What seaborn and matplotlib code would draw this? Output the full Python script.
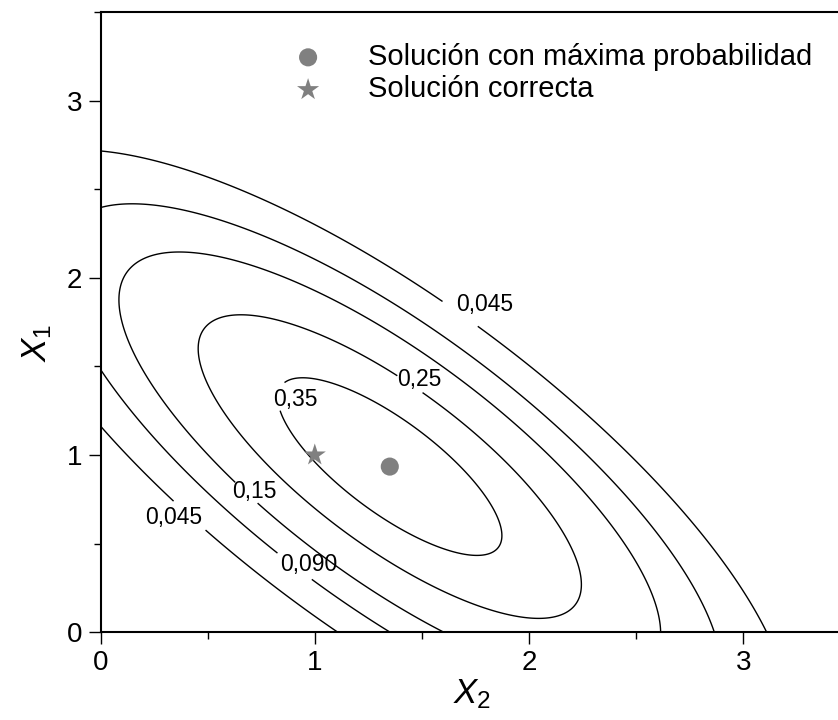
import numpy as np
import matplotlib
matplotlib.use("Agg")
import matplotlib.pyplot as plt
from matplotlib.ticker import MultipleLocator
import seaborn as sns

# Contour levels of the probability density and their printed labels
levels = [0.045, 0.090, 0.15, 0.25, 0.35]
level_labels = ["0,045", "0,090", "0,15", "0,25", "0,35"]

# Gaussian density model (coordinates ordered x2, x1)
peak_density = 0.417
precision_x2x2 = 3.23
precision_x2x1 = 2.62
precision_x1x1 = 3.52

# Marked solutions (x2, x1)
max_prob_solution = [1.35, 0.935]
correct_solution = [1.0, 1.0]
legend_labels = ["Solución con máxima probabilidad", "Solución correcta"]

# Axis ranges and ticks
x2_range = [0.0, 3.5]
x1_range = [0.0, 3.5]
major_ticks = [0, 1, 2, 3]

# Point on a contour where each label is cut in, and where its text is drawn
label_cut = [(0.422, 0.667), (1.685, 1.808), (0.908, 0.376),
             (0.686, 0.794), (1.444, 1.400), (0.857, 1.333)]
label_text = [(0.343, 0.647), (1.794, 1.852), (0.973, 0.385),
              (0.716, 0.796), (1.486, 1.424), (0.911, 1.316)]

sns.set_theme(style="ticks")
plt.rcParams["font.family"] = ["Liberation Sans", "DejaVu Sans"]
plt.rcParams["mathtext.fontset"] = "custom"
plt.rcParams["mathtext.it"] = "Liberation Sans:italic"
plt.rcParams["mathtext.rm"] = "Liberation Sans"
plt.rcParams["axes.linewidth"] = 1.5
plt.rcParams["text.color"] = "black"
plt.rcParams["axes.labelcolor"] = "black"
plt.rcParams["xtick.color"] = "black"
plt.rcParams["ytick.color"] = "black"

W, H = 838, 720
fig = plt.figure(figsize=(W / 100, H / 100), dpi=100)
ax = fig.add_axes([100.5 / W, (H - 632.3) / H, 750 / W, 620.3 / H])

# Density grid
g2 = np.linspace(x2_range[0], x2_range[1], 601)
g1 = np.linspace(x1_range[0], x1_range[1], 601)
G2, G1 = np.meshgrid(g2, g1)
d2 = G2 - max_prob_solution[0]
d1 = G1 - max_prob_solution[1]
quad = (precision_x2x2 * d2 ** 2 + 2 * precision_x2x1 * d2 * d1
        + precision_x1x1 * d1 ** 2)
density = peak_density * np.exp(-0.5 * quad)

ax.set_xlim(x2_range)
ax.set_ylim(x1_range)

cs = ax.contour(G2, G1, density, levels=levels, colors="black",
                linewidths=1.0)

fmt = dict(zip(levels, level_labels))
texts = ax.clabel(cs, fmt=fmt, manual=label_cut, inline=True,
                  inline_spacing=-7, fontsize=16.5)
for t, pos in zip(texts, label_text):
    t.set_rotation(0)
    t.set_position(pos)
    t.set_color("black")

gray = "#808080"
sns.scatterplot(x=[max_prob_solution[0]], y=[max_prob_solution[1]],
                marker="o", s=170, color=gray, edgecolor="none",
                label=legend_labels[0], ax=ax, zorder=4)
sns.scatterplot(x=[correct_solution[0]], y=[correct_solution[1]],
                marker="*", s=280, color=gray, edgecolor="none",
                label=legend_labels[1], ax=ax, zorder=4)

leg = ax.legend(loc="upper left", bbox_to_anchor=(293.5 / W, 1 - 43 / H),
                bbox_transform=fig.transFigure, frameon=False, fontsize=21,
                handlelength=1.0, handletextpad=1.57, labelspacing=0.15,
                borderpad=0, borderaxespad=0, scatterpoints=1)
for t in leg.get_texts():
    t.set_color("black")

ax.set_xlim(x2_range)
ax.set_ylim(x1_range)
ax.set_xticks(major_ticks)
ax.set_yticks(major_ticks)
ax.xaxis.set_minor_locator(MultipleLocator(0.5))
ax.yaxis.set_minor_locator(MultipleLocator(0.5))
ax.tick_params(which="major", direction="out", length=8.6, width=1.0,
               labelsize=20, color="black", labelcolor="black")
ax.tick_params(axis="y", which="major", pad=4.5)
ax.tick_params(axis="x", which="major", pad=4)
ax.tick_params(which="minor", direction="out", length=5, width=1.0,
               color="black")
ax.tick_params(top=False, right=False, which="both")
for side in ["left", "bottom", "top", "right"]:
    ax.spines[side].set_color("black")
ax.grid(False)

ax.set_xlabel(r"$X_{\mathrm{2}}$", fontsize=25, color="black")
ax.set_ylabel(r"$X_{\mathrm{1}}$", fontsize=25, color="black")
ax.xaxis.set_label_coords(0.495, -0.072)
ax.yaxis.set_label_coords(-0.062, 0.466)

fig.savefig("out.png", dpi=100)
